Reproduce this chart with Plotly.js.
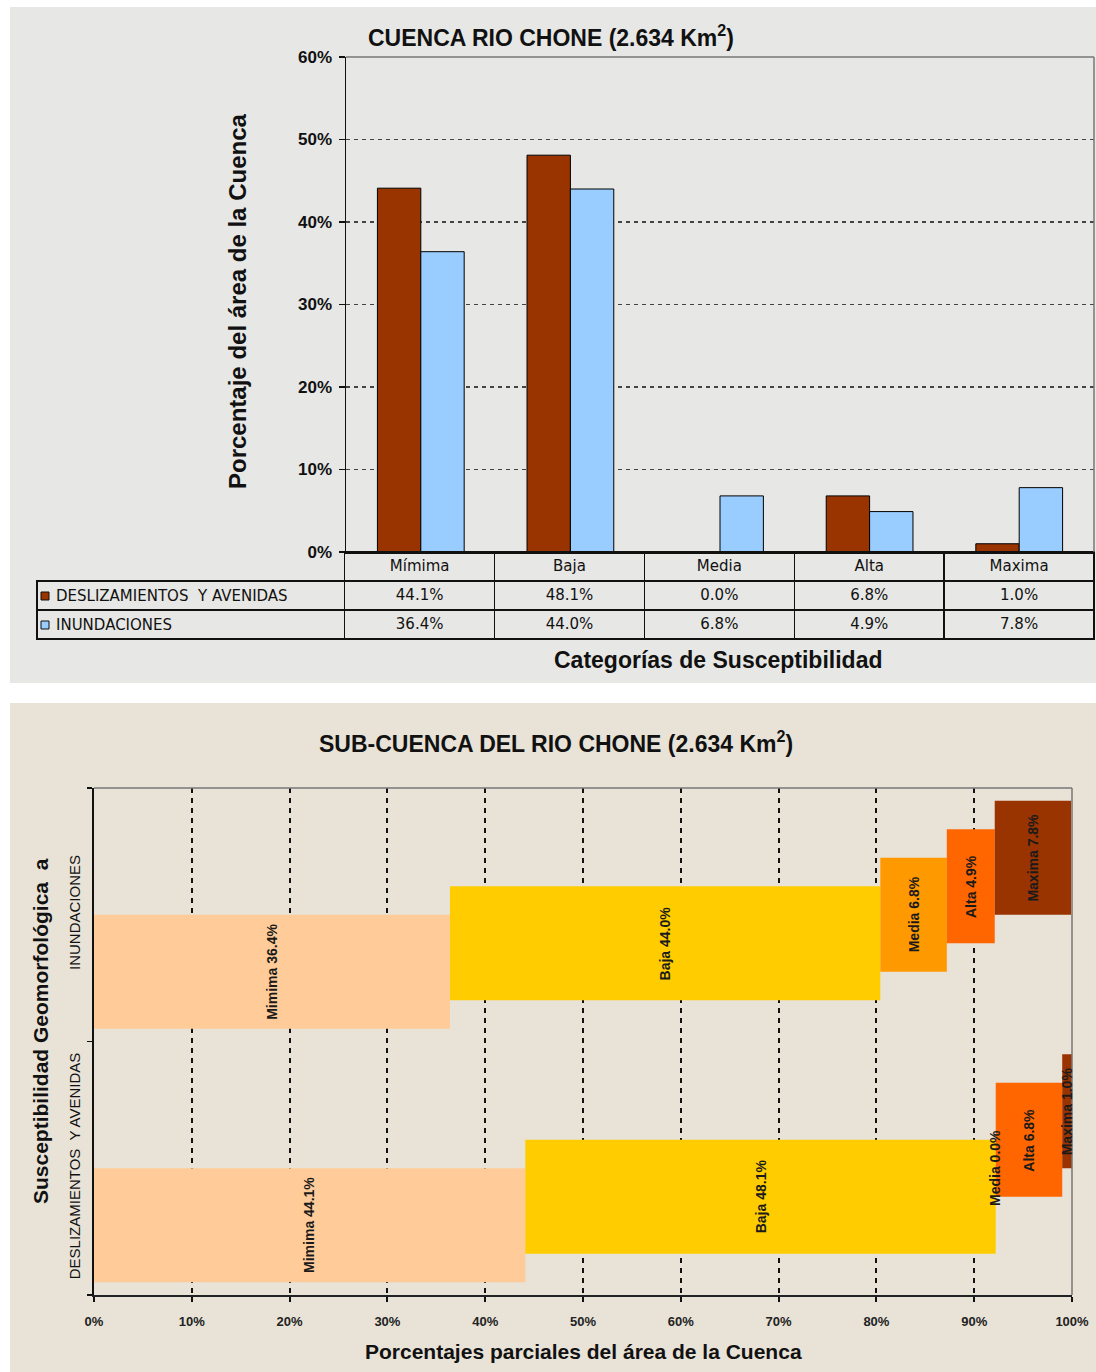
<!DOCTYPE html>
<html><head><meta charset="utf-8">
<script src="https://cdn.plot.ly/plotly-3.0.1.min.js"></script>
<style>html,body{margin:0;padding:0;background:#fff}</style>
</head><body><div id="chart" style="width:1096px;height:1372px"></div>
<script>
// ---- data ----
const categories = ['Mímima', 'Baja', 'Media', 'Alta', 'Maxima'];
const barLabels = ['Mimima', 'Baja', 'Media', 'Alta', 'Maxima'];
const seriesNames = ['DESLIZAMIENTOS  Y AVENIDAS', 'INUNDACIONES'];
const deslizamientos = [0.441, 0.481, 0.000, 0.068, 0.010];
const inundaciones = [0.364, 0.440, 0.068, 0.049, 0.078];
const groupNames = ['DESLIZAMIENTOS  Y AVENIDAS', 'INUNDACIONES'];
const yTicksTop = [0, 0.1, 0.2, 0.3, 0.4, 0.5, 0.6];
const xTicksBottom = [0, 0.1, 0.2, 0.3, 0.4, 0.5, 0.6, 0.7, 0.8, 0.9, 1.0];

// ---- styles ----
const seriesColors = ['#993300', '#99ccff'];
const levelColors = ['#ffcc99', '#ffcc00', '#ff9900', '#ff6600', '#993300'];
const levelWidth = 0.45;
const levelOffset = [-0.45, -0.3375, -0.225, -0.1125, 0];

const W = 1096, H = 1372;
const px = v => v / W;
const py = v => 1 - v / H;
const FONT = 'Liberation Sans, Arial, sans-serif';
const NARROW = 'Liberation Sans Narrow, Liberation Sans, Arial, sans-serif';
const TABLEFONT = 'DejaVu Sans, sans-serif';
const fmt = v => (v * 100).toFixed(1) + '%';

const traces = [];
const annotations = [];
const shapes = [
  {type: 'rect', xref: 'paper', yref: 'paper', x0: px(10), x1: 1, y0: py(683), y1: py(7),
   fillcolor: '#e7e7e5', line: {width: 0}, layer: 'below'},
  {type: 'rect', xref: 'paper', yref: 'paper', x0: px(10), x1: 1, y0: 0, y1: py(703),
   fillcolor: '#e8e2d7', line: {width: 0}, layer: 'below'},
  // plot borders (top & right, grey)
  {type: 'line', xref: 'x domain', yref: 'y domain', x0: 0, x1: 1, y0: 1, y1: 1, line: {color: '#777', width: 1.5}},
  {type: 'line', xref: 'x domain', yref: 'y domain', x0: 1, x1: 1, y0: 0, y1: 1, line: {color: '#777', width: 1.5}},
  {type: 'line', xref: 'x2 domain', yref: 'y2 domain', x0: 0, x1: 1, y0: 1, y1: 1, line: {color: '#777', width: 1.5}},
  {type: 'line', xref: 'x2 domain', yref: 'y2 domain', x0: 1, x1: 1, y0: 0, y1: 1, line: {color: '#777', width: 1.5}}
];

// top grouped bars
[deslizamientos, inundaciones].forEach((vals, s) => {
  traces.push({
    type: 'bar', x: categories, y: vals, name: seriesNames[s],
    xaxis: 'x', yaxis: 'y',
    marker: {color: seriesColors[s], line: {color: '#000', width: 1}}
  });
});

// data table under the top chart
traces.push({
  type: 'table',
  domain: {x: [px(37), px(1094)], y: [py(641), py(552)]},
  columnwidth: [308, 150, 150, 150, 150, 150],
  header: {
    values: [''].concat(categories),
    align: 'center', height: 29,
    fill: {color: 'rgba(0,0,0,0)'},
    line: {color: ['rgba(0,0,0,0)', '#111', '#111', '#111', '#111', '#111'], width: 1.5},
    font: {family: TABLEFONT, size: 15, color: '#111'}
  },
  cells: {
    values: [['', '']].concat(categories.map((c, i) => [fmt(deslizamientos[i]), fmt(inundaciones[i])])),
    align: 'center', height: 29,
    fill: {color: 'rgba(0,0,0,0)'},
    line: {color: '#111', width: 1.5},
    font: {family: TABLEFONT, size: 15, color: '#111'}
  }
});
// legend keys in the table's first column
const legendRowsY = [596, 625];
seriesNames.forEach((n, s) => {
  shapes.push({
    type: 'rect', xref: 'paper', yref: 'paper',
    x0: px(41), x1: px(49), y0: py(legendRowsY[s] + 4), y1: py(legendRowsY[s] - 4),
    fillcolor: seriesColors[s], line: {color: '#111', width: 1}
  });
  annotations.push({
    xref: 'paper', yref: 'paper', x: px(54), y: py(legendRowsY[s]), text: n, showarrow: false,
    xanchor: 'left', yanchor: 'middle', font: {family: TABLEFONT, size: 15, color: '#111'}
  });
});

// bottom offset-stacked horizontal bars
const groups = [deslizamientos, inundaciones];
barLabels.forEach((lab, i) => {
  const xv = groups.map(g => g[i]);
  const base = groups.map(g => g.slice(0, i).reduce((a, b) => a + b, 0));
  traces.push({
    type: 'bar', orientation: 'h', y: groupNames, x: xv, base: base,
    offset: levelOffset[i], width: levelWidth,
    xaxis: 'x2', yaxis: 'y2', name: lab,
    marker: {color: levelColors[i], line: {width: 0}}
  });
  groups.forEach((g, gi) => {
    annotations.push({
      xref: 'x2', yref: 'y2', x: base[gi] + g[i] / 2, y: gi + levelOffset[i] + levelWidth / 2,
      text: `${lab} ${fmt(g[i])}`, textangle: -90, showarrow: false,
      font: {family: NARROW, size: 14, color: '#1a1a1a', weight: 'bold'}
    });
  });
});

// titles
const t = (text, x, y, size, angle) => ({
  xref: 'paper', yref: 'paper', x: px(x), y: py(y), text: text, showarrow: false,
  textangle: angle || 0, xanchor: 'center', yanchor: 'middle',
  font: {family: FONT, size: size, color: '#111', weight: 'bold'}
});
annotations.push(t('CUENCA RIO CHONE (2.634 Km<sup>2</sup>)', 551, 36, 23));
annotations.push(t('Porcentaje del área de la Cuenca', 237, 302, 24, -90));
annotations.push(t('Categorías de Susceptibilidad', 718, 660, 23));
annotations.push(t('SUB-CUENCA DEL RIO CHONE (2.634 Km<sup>2</sup>)', 556, 742, 23));
annotations.push(t('Porcentajes parciales del área de la Cuenca', 583, 1351, 21));
annotations.push(t('Susceptibilidad Geomorfológica  a', 40, 1031, 21, -90));

const layout = {
  width: W, height: H, margin: {l: 0, r: 0, t: 0, b: 0},
  paper_bgcolor: '#ffffff', plot_bgcolor: 'rgba(0,0,0,0)',
  showlegend: false, barmode: 'group', bargap: 0.42, bargroupgap: 0,
  font: {family: FONT, color: '#111'},
  xaxis: {
    domain: [px(346), px(1094)], anchor: 'y', type: 'category', range: [-0.5, 4.5],
    showticklabels: false, ticks: '', showgrid: false, zeroline: false,
    showline: true, linecolor: '#111', linewidth: 1.5, fixedrange: true
  },
  yaxis: {
    domain: [py(552), py(57)], anchor: 'x', range: [0, 0.6],
    tickvals: yTicksTop, tickformat: '.0%',
    ticks: 'outside', ticklen: 6, tickcolor: '#111', tickwidth: 1.5, ticklabelstandoff: 3,
    tickfont: {family: FONT, size: 17, color: '#111', weight: 'bold'},
    showgrid: true, gridcolor: '#444', griddash: '4px,4px', gridwidth: 1.3, zeroline: false,
    showline: true, linecolor: '#111', linewidth: 1.5, fixedrange: true
  },
  xaxis2: {
    domain: [px(94), px(1072)], anchor: 'y2', range: [0, 1],
    tickvals: xTicksBottom, tickformat: '.0%',
    ticks: 'outside', ticklen: 5, tickcolor: '#111', tickwidth: 2, ticklabelstandoff: 8,
    tickfont: {family: NARROW, size: 13, color: '#222', weight: 'bold'},
    showgrid: true, gridcolor: '#111', griddash: '5px,5px', gridwidth: 2, zeroline: false,
    showline: true, linecolor: '#222', linewidth: 2, fixedrange: true
  },
  yaxis2: {
    domain: [py(1295), py(788)], anchor: 'x2', type: 'category',
    categoryorder: 'array', categoryarray: groupNames, range: [-0.5, 1.5],
    tickson: 'boundaries', ticks: 'outside', ticklen: 5, tickcolor: '#111', tickwidth: 1.5,
    tickangle: -90, ticklabelstandoff: 6,
    tickfont: {family: FONT, size: 15, color: '#111'},
    showgrid: false, zeroline: false,
    showline: true, linecolor: '#111', linewidth: 2, fixedrange: true
  },
  shapes: shapes,
  annotations: annotations
};

Plotly.newPlot('chart', traces, layout, {staticPlot: true});
</script>
</body></html>
